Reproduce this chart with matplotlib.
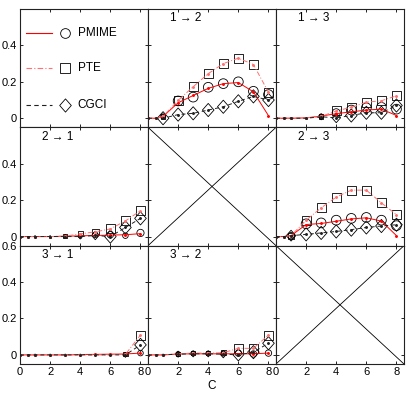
import matplotlib
matplotlib.use("Agg")
import matplotlib.pyplot as plt
from matplotlib.path import Path

plt.rcParams["font.family"] = ["Liberation Sans", "DejaVu Sans"]
plt.rcParams["font.size"] = 8


# ----------------------------------------
# DATA
# ----------------------------------------

line_x = [0, 0.5, 1, 2, 3, 4, 5, 6, 7, 8]
mark_x = [1, 2, 3, 4, 5, 6, 7, 8]

methods = ["PMIME", "PTE", "CGCI"]
panels = ["1 → 2", "1 → 3", "2 → 1", "2 → 3", "3 → 1", "3 → 2"]

x_ticks = [0, 2, 4, 6, 8]
x_tick_labels = ["0", "2", "4", "6", "8"]
y_ticks = [0, 0.2, 0.4, 0.6]
y_tick_labels = ["0", "0.2", "0.4", "0.6"]

pmime_line = [
    [0, 0, 0.01, 0.085, 0.125, 0.164, 0.19, 0.196, 0.145, 0.014],
    [0, 0, 0, 0.002, 0.012, 0.025, 0.035, 0.045, 0.05, 0.015],
    [0, 0, 0, 0, 0.002, 0.004, 0.006, 0.008, 0.01, 0.016],
    [0, 0, 0.005, 0.066, 0.072, 0.084, 0.097, 0.103, 0.085, 0.005],
    [0, 0, 0, 0, 0, 0.002, 0.003, 0.004, 0.005, 0.01],
    [0, 0, 0, 0.005, 0.006, 0.006, 0.006, 0.006, 0.006, 0.01],
]
pmime_mark = [
    [0.01, 0.095, 0.116, 0.17, 0.19, 0.2, 0.148, 0.13],
    [0, 0, 0.01, 0.03, 0.045, 0.057, 0.06, 0.05],
    [0, 0, 0, 0.003, 0.01, 0.01, 0.005, 0.02],
    [0.005, 0.07, 0.075, 0.09, 0.1, 0.105, 0.09, 0.06],
    [0, 0, 0, 0, 0, 0, 0.002, 0.01],
    [0, 0.005, 0.008, 0.008, 0.008, 0.01, 0.005, 0.01],
]
pmime_size = [
    [0.45, 1, 1, 1, 1, 1, 1, 1],
    [0, 0, 0.4, 0.8, 1, 1, 1, 1],
    [0, 0, 0.2, 0.3, 0.5, 0.6, 0.5, 0.7],
    [0.6, 1, 1, 1, 1, 1, 1, 1],
    [0, 0, 0, 0, 0, 0, 0.3, 0.5],
    [0, 0.4, 0.4, 0.4, 0.45, 0.6, 0.6, 0.6],
]

pte_line = [
    [0, 0, 0.01, 0.098, 0.173, 0.245, 0.3, 0.33, 0.295, 0.143],
    [0, 0, 0, 0.002, 0.01, 0.04, 0.06, 0.088, 0.096, 0.123],
    [0, 0, 0, 0, 0.002, 0.015, 0.026, 0.042, 0.086, 0.142],
    [0, 0, 0.005, 0.09, 0.158, 0.217, 0.255, 0.255, 0.185, 0.12],
    [0, 0, 0, 0, 0, 0, 0, 0, 0.003, 0.109],
    [0, 0, 0, 0.006, 0.01, 0.01, 0.012, 0.036, 0.036, 0.109],
]
pte_mark = [
    [0.01, 0.098, 0.173, 0.245, 0.3, 0.33, 0.295, 0.143],
    [0, 0, 0.01, 0.04, 0.06, 0.088, 0.096, 0.123],
    [0, 0, 0.002, 0.015, 0.026, 0.042, 0.086, 0.142],
    [0.005, 0.09, 0.158, 0.217, 0.255, 0.255, 0.185, 0.12],
    [0, 0, 0, 0, 0, 0, 0.003, 0.109],
    [0, 0.006, 0.01, 0.01, 0.012, 0.036, 0.036, 0.109],
]
pte_size = [
    [0.45, 1, 1, 1, 1, 1, 1, 1],
    [0, 0, 0.4, 1, 1, 1, 1, 1],
    [0, 0.1, 0.3, 0.5, 0.7, 1, 1, 1],
    [0.6, 1, 1, 1, 1, 1, 1, 1],
    [0, 0, 0, 0, 0, 0, 0.4, 1],
    [0, 0.3, 0.4, 0.4, 0.5, 1, 1, 1],
]

cgci_line = [
    [0, 0, 0, 0.02, 0.027, 0.045, 0.063, 0.093, 0.12, 0.1],
    [0, 0, 0, 0, 0.008, 0.002, 0.015, 0.03, 0.03, 0.07],
    [0, 0, 0, 0, 0, 0, 0.006, 0, 0.05, 0.1],
    [0, 0, 0.005, 0.012, 0.02, 0.028, 0.038, 0.05, 0.058, 0.065],
    [0, 0, 0, 0, 0, 0, 0, 0, 0, 0.055],
    [0, 0, 0, 0.004, 0.006, 0.006, 0.004, 0, 0.015, 0.064],
]
cgci_mark = [
    [0, 0.02, 0.027, 0.045, 0.063, 0.093, 0.12, 0.1],
    [0, 0, 0.008, 0.002, 0.015, 0.03, 0.03, 0.07],
    [0, 0, 0, 0, 0.006, 0, 0.05, 0.1],
    [0.005, 0.012, 0.02, 0.028, 0.038, 0.05, 0.058, 0.065],
    [0, 0, 0, 0, 0, 0, 0, 0.055],
    [0, 0.004, 0.006, 0.006, 0.004, 0, 0.015, 0.064],
]
cgci_size = [
    [1, 1, 1, 1, 1, 1, 1, 1],
    [0, 0, 0.4, 0.7, 1, 1, 1, 1],
    [0, 0, 0.2, 0.3, 0.6, 1, 1, 1],
    [0.8, 1, 1, 1, 1, 1, 1, 1],
    [0, 0, 0, 0, 0, 0, 0.3, 1],
    [0, 0.4, 0.4, 0.4, 0.5, 0.9, 1, 1],
]


# ----------------------------------------
# STYLES
# ----------------------------------------

diamond = Path([(0, 1), (0.88, 0), (0, -1), (-0.88, 0), (0, 1)],
               [Path.MOVETO, Path.LINETO, Path.LINETO, Path.LINETO, Path.CLOSEPOLY])

styles = {
    "PMIME": dict(color="#ff0000", ls="-", marker="o", ms_min=1.0, ms_max=7.0),
    "PTE": dict(color="#ff7070", ls=(0, (5, 2, 1, 2)), marker="s", ms_min=0.8, ms_max=6.5),
    "CGCI": dict(color="#202020", ls=(0, (4, 3)), marker=diamond, ms_min=1.0, ms_max=9.5),
}

series = {
    "PMIME": (pmime_line, pmime_mark, pmime_size),
    "PTE": (pte_line, pte_mark, pte_size),
    "CGCI": (cgci_line, cgci_mark, cgci_size),
}


# ----------------------------------------
# FIGURE
# ----------------------------------------

fig, axes = plt.subplots(3, 3, figsize=(4.09, 3.97), dpi=100)
fig.subplots_adjust(left=20 / 409, right=404 / 409,
                    top=1 - 9 / 397, bottom=1 - 364 / 397,
                    hspace=0, wspace=0)

for r in range(3):
    for c in range(3):
        ax = axes[r][c]
        ax.set_xlim(0, 8.5)
        ax.set_ylim(-0.05, 0.6)
        ax.set_xticks(x_ticks)
        ax.set_yticks(y_ticks if r == 2 else y_ticks[:3])
        if r == 2:
            ax.set_xticklabels(x_tick_labels)
        else:
            ax.set_xticklabels([])
        if c == 0:
            ax.set_yticklabels(y_tick_labels if r == 2 else y_tick_labels[:3])
        else:
            ax.set_yticklabels([])
        ax.tick_params(direction="in", top=True, right=True, length=2.5,
                       width=0.6, labelsize=8, pad=2.5)
        for sp in ax.spines.values():
            sp.set_linewidth(0.8)
            sp.set_color("#222222")

# crosses on empty diagonal panels
for r, c in [(1, 1), (2, 2)]:
    ax = axes[r][c]
    ax.plot([0, 1], [0, 1], transform=ax.transAxes, color="black", lw=0.6)
    ax.plot([0, 1], [1, 0], transform=ax.transAxes, color="black", lw=0.6)

# data panels
for i, name in enumerate(panels):
    src, dst = name.split(" → ")
    ax = axes[int(src) - 1][int(dst) - 1]
    for m in methods:
        st = styles[m]
        line_vals, mark_vals, size_vals = series[m]
        ax.plot(line_x, line_vals[i], color=st["color"], ls=st["ls"], lw=0.7,
                marker="o", ms=1.1, mec=st["color"], mfc=st["color"], zorder=3)
        sizes = [(st["ms_min"] + (st["ms_max"] - st["ms_min"]) * w) ** 2
                 for w in size_vals[i]]
        ax.scatter(mark_x, mark_vals[i], s=sizes, marker=st["marker"],
                   facecolors="none", edgecolors="black", linewidths=0.6,
                   zorder=2)
    ax.text(0.17, 0.92, name, transform=ax.transAxes, fontsize=8.5,
            ha="left", va="center")

# legend drawn in the empty top-left panel
ax = axes[0][0]
for m, y in zip(methods, [0.80, 0.50, 0.19]):
    st = styles[m]
    ax.plot([0.05, 0.25], [y, y], transform=ax.transAxes,
            color=st["color"], ls=st["ls"], lw=0.8)
    ax.plot([0.35], [y], transform=ax.transAxes, marker=st["marker"],
            ms=st["ms_max"], mfc="none", mec="black", mew=0.6, ls="none")
    ax.text(0.45, y, m, transform=ax.transAxes, fontsize=8.5,
            ha="left", va="center")

axes[2][1].set_xlabel("C", fontsize=8.5, labelpad=2)

fig.savefig("out.png", dpi=100)
